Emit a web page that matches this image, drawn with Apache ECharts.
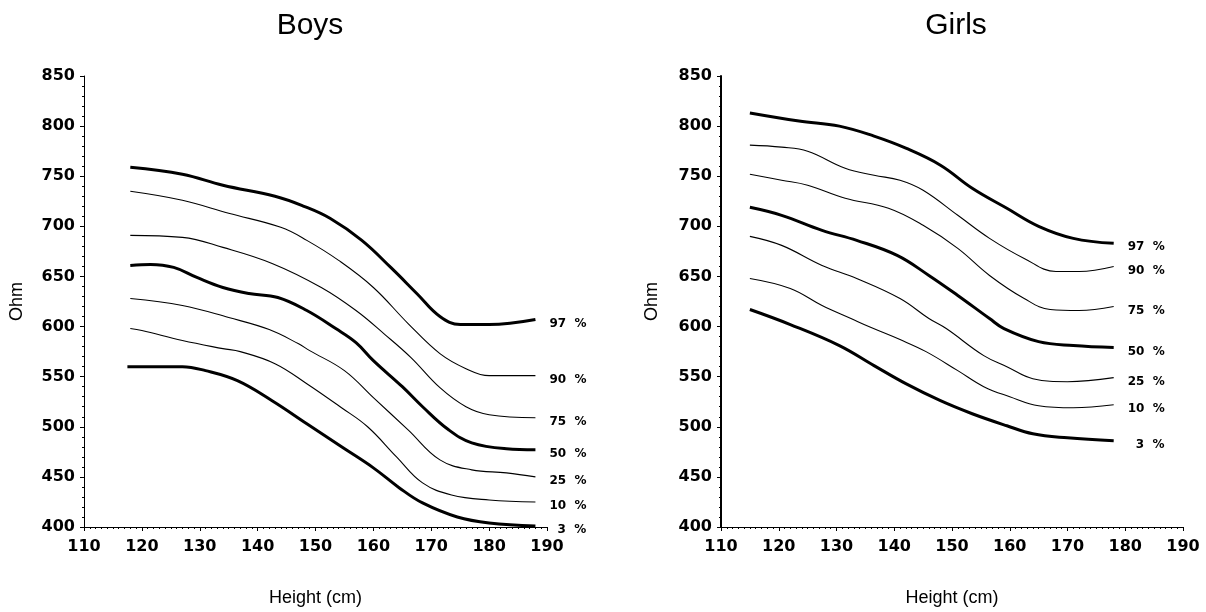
<!DOCTYPE html>
<html>
<head>
<meta charset="utf-8">
<script src="https://cdn.jsdelivr.net/npm/echarts@6/dist/echarts.min.js"></script>
<style>
html,body{margin:0;padding:0;background:#fff;}
#chart{width:1206px;height:612px;}
</style>
</head>
<body>
<div id="chart"></div>
<script>
// ---- data (height cm, Ohm) ----
const panelTitles = ['Boys', 'Girls'];
const percentileLabels = ['97 %', '90 %', '75 %', '50 %', '25 %', '10 %', '3 %'];
const thickPercentiles = ['97 %', '50 %', '3 %'];
const yTicks = [400, 850, 50];
const xTicks = [110, 190, 10];

const boysP97 = [[118,759],[127,752],[134,741],[143,730],[148,720],[152.5,708],[158,686],[163,659],[167.5,633],[171.5,610],[175,602],[180,602],[188,607]];
const boysP90 = [[118,735],[127,726],[135,713],[144,699],[148.5,686],[154,666],[160,639],[166,603],[171.5,573],[176,558],[180,551],[188,551]];
const boysP75 = [[118,691],[127,689],[134,679],[142.5,663],[151,639],[157,616],[162,592],[166.5,569],[171.5,539],[176,520],[180,512],[188,509]];
const boysP50 = [[118,661],[121.5,662],[125.5,659],[129.5,649],[134,639],[138.5,633],[143.5,629],[148.5,616],[153.5,598],[157,584],[160,566],[165,540],[168.5,520],[173,497],[177,484],[183,478],[188,477]];
const boysP25 = [[118,628],[127,621],[135,609],[142,597],[147,583],[149,576],[155,556],[160,529],[166,497],[171.5,467],[177,457],[183,454],[188,450]];
const boysP10 = [[118,598],[120,596],[127,586],[134,578],[137,575],[143,563],[148.5,543],[154.5,519],[159,500],[164,470],[168.5,444],[173.5,432],[180,427],[188,425]];
const boysP3  = [[117.5,560],[127,560],[131,556],[136.5,546],[142.5,526],[148.5,503],[154.5,480],[160,459],[164.5,439],[168.5,424],[174.5,410],[180,404],[188,401]];

const girlsP97 = [[115,813],[123.5,805],[130.5,800],[136.5,790],[142,778],[148,761],[153.5,738],[159.5,718],[165,700],[171,688],[178,683]];
const girlsP90 = [[115,781],[120.5,779],[125,775],[131.5,758],[136.5,751],[141,746],[145,736],[151,711],[156.5,688],[162.5,668],[168,655],[172,655],[178,660]];
const girlsP75 = [[115,752],[120.5,746],[125,741],[131.5,728],[139,718],[145,701],[151,678],[156.5,651],[162.5,628],[167,617],[172,616],[178,620]];
const girlsP50 = [[115,719],[120.5,711],[127.5,696],[133.5,686],[140.5,671],[146,651],[151,631],[156.5,608],[159,598],[165,585],[171,581],[178,579]];
const girlsP25 = [[115,690],[120.5,681],[127.5,661],[133.5,648],[141,628],[146,608],[149,598],[155.5,571],[159.5,560],[164,548],[170,545],[178,549]];
const girlsP10 = [[115,648],[122,638],[127.5,621],[132.5,608],[136,599],[141,587],[145.5,575],[151,556],[155.5,540],[160,530],[165,521],[171,519],[178,522]];
const girlsP3  = [[115,617],[122,602],[130.5,581],[136.5,561],[142,543],[148,526],[153.5,513],[159.5,501],[164,493],[170,489],[178,486]];

const boysSeries = [boysP97, boysP90, boysP75, boysP50, boysP25, boysP10, boysP3];
const girlsSeries = [girlsP97, girlsP90, girlsP75, girlsP50, girlsP25, girlsP10, girlsP3];

// ---- chart ----
const FONT = 'Liberation Sans, Arial, sans-serif';
const TICKFONT = 'DejaVu Sans, sans-serif';
const grids = [
  {left: 84, width: 463, top: 76, height: 452},
  {left: 721, width: 462, top: 76, height: 452}
];

function xAxisFor(i){
  return {
    type: 'value', gridIndex: i, min: xTicks[0], max: xTicks[1], interval: xTicks[2],
    name: 'Height (cm)', nameLocation: 'middle', nameGap: 62,
    nameTextStyle: {fontFamily: FONT, fontSize: 18, color: '#000'},
    axisLine: {show: true, onZero: false, lineStyle: {color: '#000', width: 1}},
    axisTick: {show: true, inside: false, length: 4, lineStyle: {color: '#000'}},
    minorTick: {show: true, splitNumber: 10, length: 2, lineStyle: {color: '#000'}},
    axisLabel: {fontFamily: TICKFONT, fontSize: 16, fontWeight: 'bold', color: '#000', margin: 12},
    splitLine: {show: false}
  };
}
function yAxisFor(i){
  return {
    type: 'value', gridIndex: i, min: yTicks[0], max: yTicks[1], interval: yTicks[2],
    name: 'Ohm', nameLocation: 'middle', nameGap: i === 1 ? 60 : 58, nameRotate: 90,
    nameTextStyle: {fontFamily: FONT, fontSize: 18, color: '#000'},
    axisLine: {show: true, onZero: false, lineStyle: {color: '#000', width: i === 1 ? 2 : 1}},
    axisTick: {show: true, inside: false, length: 4, lineStyle: {color: '#000'}},
    minorTick: {show: true, splitNumber: 5, length: 2, lineStyle: {color: '#000'}},
    axisLabel: {fontFamily: TICKFONT, fontSize: 16, fontWeight: 'bold', color: '#000', margin: 9},
    splitLine: {show: false}
  };
}

const series = [];
[boysSeries, girlsSeries].forEach((group, gi) => {
  group.forEach((data, si) => {
    const lab = percentileLabels[si];
    const thick = thickPercentiles.indexOf(lab) >= 0;
    series.push({
      type: 'line', xAxisIndex: gi, yAxisIndex: gi,
      data: data, smooth: 0.4, showSymbol: false, symbol: 'none',
      lineStyle: {color: '#000', width: thick ? 3 : 1.1},
      silent: true, animation: false,
      endLabel: {
        show: true, formatter: lab.replace(' ', '  '),
        fontFamily: TICKFONT, fontSize: 12, fontWeight: 'bold', color: '#000',
        offset: [lab === '3 %' ? 14 : 6, 4]
      }
    });
  });
});

const chart = echarts.init(document.getElementById('chart'), null, {renderer: 'canvas'});
chart.setOption({
  animation: false,
  backgroundColor: '#fff',
  title: [
    {text: panelTitles[0], left: 305, top: 6, textAlign: 'center',
     textStyle: {fontFamily: FONT, fontSize: 30, fontWeight: 'normal', color: '#000'}},
    {text: panelTitles[1], left: 951, top: 6, textAlign: 'center',
     textStyle: {fontFamily: FONT, fontSize: 30, fontWeight: 'normal', color: '#000'}}
  ],
  grid: grids,
  xAxis: [xAxisFor(0), xAxisFor(1)],
  yAxis: [yAxisFor(0), yAxisFor(1)],
  series: series
});
</script>
</body>
</html>
